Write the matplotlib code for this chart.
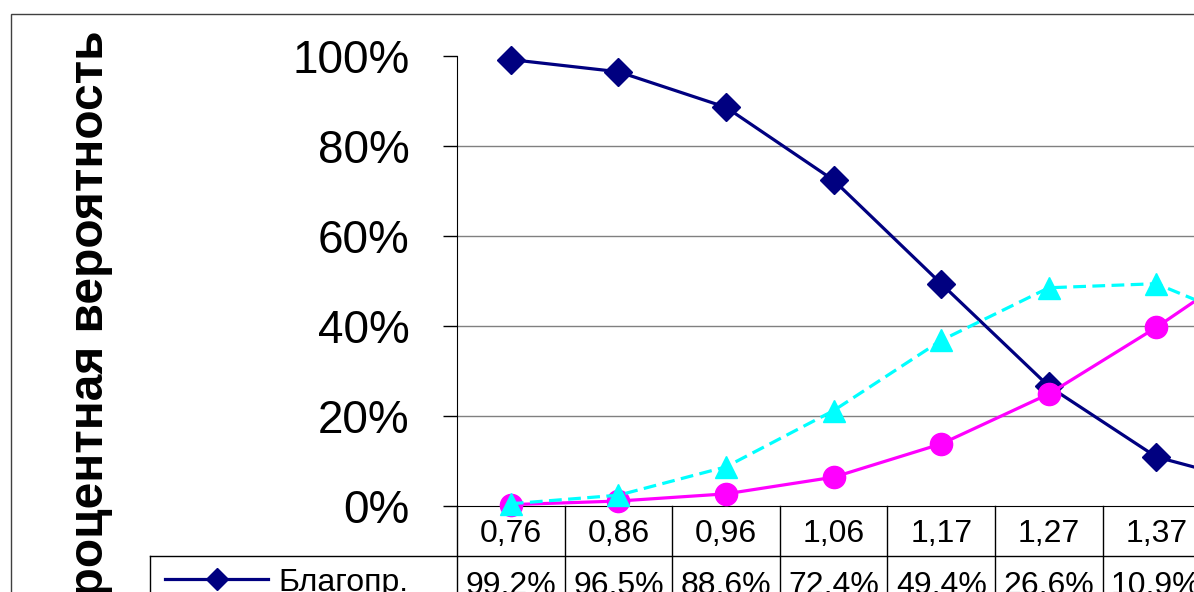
import matplotlib
matplotlib.use('Agg')
import matplotlib.pyplot as plt
from matplotlib.ticker import FuncFormatter
from matplotlib.patches import Rectangle
from matplotlib.lines import Line2D

plt.rcParams['font.family'] = ['Liberation Sans', 'DejaVu Sans']

# данные
categories = ['0,76', '0,86', '0,96', '1,06', '1,17', '1,27', '1,37', '1,47']
blagopr = [99.2, 96.5, 88.6, 72.4, 49.4, 26.6, 10.9, 4.5]
magenta_vals = [0.3, 1.1, 2.7, 6.4, 13.8, 24.9, 39.7, 56.0]
cyan_vals = [0.5, 2.4, 8.7, 21.2, 36.8, 48.5, 49.4, 39.5]
y_label = 'Процентная вероятность'
legend_name = 'Благопр.'

W, H = 1194, 592
fig = plt.figure(figsize=(W / 100, H / 100), dpi=100)

def fx(px):
    return px / W

def fy(py):
    return 1 - py / H

# рамка диаграммы
fig.patches.append(Rectangle((fx(11), fy(1000)), fx(2000), fy(14) - fy(1000),
                             transform=fig.transFigure, fill=False,
                             edgecolor='#404040', linewidth=1.0))

x0, y0, y100 = 457, 506, 56
cat_w = 107.6
n = len(categories)
ax = fig.add_axes([fx(x0), fy(y0), fx(n * cat_w), (y0 - y100) / H])
ax.set_xlim(-0.5, n - 0.5)
ax.set_ylim(0, 100)
xs = list(range(n))

ax.plot(xs, blagopr, color='#000080', lw=2.3, marker='D', ms=14,
        zorder=3, clip_on=False)
ax.plot(xs, magenta_vals, color='#FF00FF', lw=2.3, marker='o', ms=16,
        zorder=4, clip_on=False)
ax.plot(xs, cyan_vals, color='#00FFFF', lw=2.3, ls=(0, (4, 2)), marker='^',
        ms=16, zorder=5, clip_on=False)

for v in [20, 40, 60, 80]:
    ax.axhline(v, color='#808080', lw=1.0, zorder=1)

for s in ['top', 'right']:
    ax.spines[s].set_visible(False)
ax.spines['left'].set_color('black')
ax.spines['bottom'].set_color('black')
ax.set_yticks([0, 20, 40, 60, 80, 100])
ax.yaxis.set_major_formatter(FuncFormatter(lambda v, p: '%d%%' % v))
ax.tick_params(axis='y', direction='out', length=10, width=1, labelsize=33, pad=24)
ax.set_xticks([])

# таблица данных
row1_bottom = 556
row2_bottom = 640
for i in range(n + 1):
    xp = x0 + i * cat_w
    fig.add_artist(Line2D([fx(xp), fx(xp)], [fy(y0), fy(row2_bottom)],
                          transform=fig.transFigure, color='black', lw=1.0))
fig.add_artist(Line2D([fx(150), fx(x0 + n * cat_w)], [fy(row1_bottom), fy(row1_bottom)],
                      transform=fig.transFigure, color='black', lw=1.0))
fig.add_artist(Line2D([fx(150), fx(150)], [fy(row1_bottom), fy(row2_bottom)],
                      transform=fig.transFigure, color='black', lw=1.0))

for i, c in enumerate(categories):
    xc = x0 + (i + 0.5) * cat_w
    fig.text(fx(xc), fy(542), c, ha='center', va='baseline', fontsize=23)
    fig.text(fx(xc), fy(594), ('%.1f%%' % blagopr[i]).replace('.', ','),
             ha='center', va='baseline', fontsize=23)

fig.add_artist(Line2D([fx(165), fx(268)], [fy(579), fy(579)],
                      transform=fig.transFigure, color='#000080', lw=2.3))
fig.add_artist(Line2D([fx(217)], [fy(579)], transform=fig.transFigure,
                      color='#000080', marker='D', ms=11, lw=0))
fig.text(fx(278), fy(591), legend_name, ha='left', va='baseline', fontsize=23)

fig.text(fx(91), fy(30), y_label, rotation=90, ha='center', va='top',
         fontsize=34.5, fontweight='bold')

fig.savefig('out.png', dpi=100)
